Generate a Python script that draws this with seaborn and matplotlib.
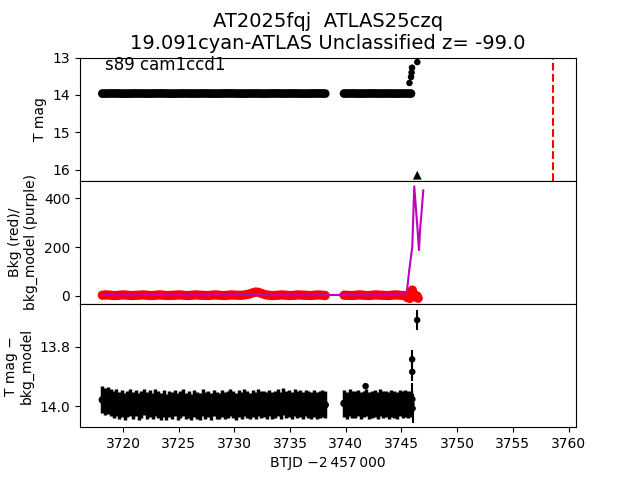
import numpy as np
import matplotlib
matplotlib.use("Agg")
import matplotlib.pyplot as plt
import seaborn as sns

# light curve of AT2025fqj, TESS sector 89, binned to a 0.25 d cadence
t0_seg1 = 3718.15
t0_seg2 = 3739.85
cadence = 0.25

# T mag, millimag offsets from 13.962
top_seg1 = [2, 1, 0, -1, -2, -1, 0, 1, 2, 2,
            1, 0, -1, -1, 0, 1, 2, 1, 0, -1,
            -2, -2, -1, 0, 1, 2, 2, 1, 0, -1,
            -1, 0, 1, 1, 0, -1, -2, -1, 0, 1,
            2, 2, 1, 0, -1, -2, -2, -1, 0, 1,
            1, 2, 1, 0, -1, -1, 0, 1, 2, 1,
            0, -1, -2, -1, 0, 1, 1, 0, -1, -1,
            0, 1, 2, 2, 1, 0, -1, -2, -1, 0,
            1]
top_seg2 = [1, 0, -1, -1, 0, 1, 2, 1, 0, -1,
            -2, -1, 0, 1, 1, 0, -1, 0, 1, 2,
            1, 0, -1, 0, 1]
rise_t = [3745.72, 3745.86, 3745.91, 3745.95, 3746.42]
rise_mag = [13.68, 13.52, 13.40, 13.27, 13.12]
limit_t = [3746.42]
limit_mag = [16.15]
alert_t = 3758.57

# background (red) and background model (purple)
bkg_seg1 = [3, 4, 4, 3, 2, 2, 3, 4, 4, 3,
            2, 2, 3, 3, 4, 4, 3, 2, 2, 3,
            4, 4, 3, 2, 2, 3, 3, 4, 4, 3,
            2, 2, 3, 4, 4, 3, 3, 2, 2, 3,
            4, 4, 3, 2, 2, 3, 4, 4, 3, 3,
            3, 4, 6, 9, 13, 16, 15, 11, 7, 4,
            3, 2, 2, 3, 4, 4, 3, 2, 2, 3,
            4, 4, 3, 3, 2, 2, 3, 4, 4, 3,
            2]
bkg_seg2 = [3, 3, 2, 2, 3, 4, 4, 3, 2, 2,
            3, 4, 4, 3, 3, 2, 2, 3, 4, 4,
            3, 2, 2, 3, 3]
bkg_end_t = [3745.50, 3745.62, 3745.74, 3745.86, 3745.98, 3746.10, 3746.22, 3746.40, 3746.50]
bkg_end = [-6, 4, -10, 18, 24, 8, -4, 0, -9]
model_t = [3718.15, 3720.0, 3722.0, 3724.0, 3726.0, 3728.0, 3730.0, 3732.0, 3734.0,
           3736.0, 3738.15, 3739.85, 3742.0, 3744.0, 3745.47, 3745.70, 3745.97,
           3746.15, 3746.45, 3746.57, 3746.69, 3746.77, 3746.96]
model_val = [4, 3, 4, 4, 3, 4, 5, 6, 4, 3, 4, 4, 3, 4, 11, 106, 201, 449, 269, 188, 283, 324, 433]

# T mag - bkg_model, millimag offsets from 13.992
diff_seg1 = [-14, -9, -12, -4, 2, -6, 5, -2, 8, 0,
             -5, 6, -3, 9, 1, -7, 4, -1, 7, -4,
             3, 8, -2, 10, 0, 6, -3, 9, 2, -5,
             7, 1, 10, -2, 5, 8, -4, 6, 0, 9,
             -3, 4, 7, -1, 5, 2, -6, 3, 8, -2,
             6, -4, 2, 7, -1, 4, -5, 3, 0, 6,
             -3, 5, 1, -6, 4, -8, 2, -2, 6, -4,
             3, -1, 5, -3, 2, 6, -2, 4, 1, -1,
             3]
diff_seg2 = [-2, 4, -5, 3, 1, -3, 6, 0, -4, 5,
             2, -1, 4, -6, 3, 0, 5, -2, 1, 4,
             -3, 2, -1, 3, 0]
diff_err = 0.045
extra_t = [3741.78, 3745.96, 3745.97, 3745.98, 3746.00, 3746.41]
extra_mag = [13.932, 13.842, 13.884, 13.976, 14.007, 13.71]
extra_err = [0.004, 0.03, 0.03, 0.055, 0.05, 0.034]


t1 = t0_seg1 + cadence * np.arange(len(top_seg1))
t2 = t0_seg2 + cadence * np.arange(len(top_seg2))
t_all = np.concatenate([t1, t2])
top_mag = 13.962 + np.array(top_seg1 + top_seg2) / 1000
bkg = np.array(bkg_seg1 + bkg_seg2, dtype=float)
diff_mag = 13.992 + np.array(diff_seg1 + diff_seg2) / 1000

fig, axes = plt.subplots(3, 1, sharex=True, figsize=(6.4, 4.8), dpi=100)
plt.subplots_adjust(hspace=0)
ax1, ax2, ax3 = axes

dots = dict(linewidth=0, edgecolor="none")

# top: light curve
sns.scatterplot(x=t_all, y=top_mag, ax=ax1, color="k", s=40, **dots)
sns.scatterplot(x=rise_t, y=rise_mag, ax=ax1, color="k", s=22, **dots)
sns.scatterplot(x=limit_t, y=limit_mag, ax=ax1, color="k", marker="^", s=40, **dots)
ax1.axvline(alert_t, color="r", ls="--", lw=1.5)
ax1.set_ylim(16.3, 13.0)
ax1.set_yticks([13, 14, 15, 16])
ax1.set_ylabel("T mag")
ax1.text(0.05, 0.9, "s89 cam1ccd1", transform=ax1.transAxes, fontsize=12)
ax1.set_title("AT2025fqj  ATLAS25czq\n19.091cyan-ATLAS Unclassified z= -99.0", fontsize=14)

# middle: background
sns.scatterplot(x=t_all, y=bkg, ax=ax2, color="r", s=45, **dots)
sns.scatterplot(x=bkg_end_t, y=bkg_end, ax=ax2, color="r", s=45, **dots)
sns.lineplot(x=model_t, y=model_val, ax=ax2, color="m", lw=1.5, estimator=None, zorder=3)
ax2.set_ylabel("Bkg (red)/\nbkg_model (purple)")

# bottom: background-subtracted mag
ax3.errorbar(t_all, diff_mag, yerr=diff_err, fmt="none", ecolor="k", elinewidth=2.5)
ax3.errorbar(extra_t, extra_mag, yerr=extra_err, fmt="none", ecolor="k", elinewidth=1.5)
sns.scatterplot(x=t_all, y=diff_mag, ax=ax3, color="k", s=30, **dots)
sns.scatterplot(x=extra_t, y=extra_mag, ax=ax3, color="k", s=22, **dots)
ax3.set_ylim(14.07, 13.656)
ax3.set_yticks([13.8, 14.0])
ax3.set_yticklabels(["13.8", "14.0"])
ax3.set_ylabel("T mag \u2212\nbkg_model")
ax3.set_xlim(3716.14, 3760.67)
ax3.set_xticks(np.arange(3720, 3761, 5))
ax3.set_xlabel("BTJD \u22122\u2009457\u2009000")

fig.savefig("out.png", dpi=100)
